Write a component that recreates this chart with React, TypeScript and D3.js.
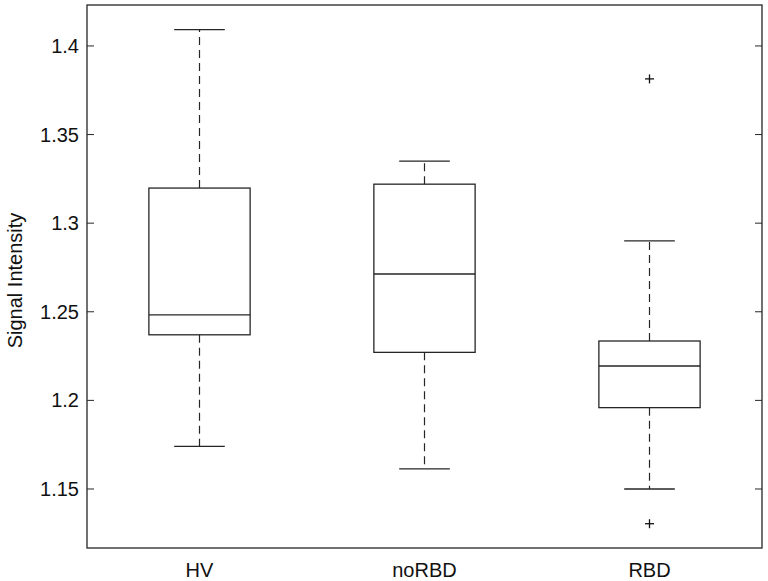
import React from 'react';
import * as d3 from 'd3';

const categories = ['HV', 'noRBD', 'RBD'];
const lowerWhisker = [1.174, 1.1614, 1.15];
const q1 = [1.237, 1.2271, 1.1959];
const median = [1.2483, 1.2713, 1.2194];
const q3 = [1.3198, 1.322, 1.2335];
const upperWhisker = [1.4092, 1.335, 1.29];
const outliers = [[], [], [1.3814, 1.1304]];
const yTicks = [1.15, 1.2, 1.25, 1.3, 1.35, 1.4];

const App: React.FC = () => {
	const width = 768;
	const height = 581;
	const left = 87;
	const right = 762;
	const top = 5;
	const bottom = 548;
	const stroke = '#262626';
	const font = 'Liberation Sans, Arial, Helvetica, sans-serif';

	const x = d3.scaleLinear().domain([0.5, 3.5]).range([left, right]);
	const y = d3.scaleLinear().domain([1.1167, 1.4231]).range([bottom, top]);
	const boxHalf = (x(1.45) - x(1)) / 2;
	const capHalf = boxHalf / 2;

	return (
		<svg width={width} height={height} style={{ position: 'absolute', left: 0, top: 0, background: '#fff' }}>
			<rect x={left} y={top} width={right - left} height={bottom - top} fill="none" stroke={stroke} strokeWidth={1.3} />
			{yTicks.map(t => (
				<g key={t}>
					<line x1={left} x2={left + 7} y1={y(t)} y2={y(t)} stroke={stroke} />
					<line x1={right} x2={right - 7} y1={y(t)} y2={y(t)} stroke={stroke} />
					<text x={left - 8} y={y(t)} dy="0.35em" textAnchor="end" fontFamily={font} fontSize={20} fill="#111">
						{d3.format('')(t)}
					</text>
				</g>
			))}
			{categories.map((c, i) => {
				const cx = x(i + 1);
				return (
					<g key={c}>
						<line x1={cx} x2={cx} y1={y(q3[i])} y2={y(upperWhisker[i])} stroke={stroke} strokeWidth={1.2} strokeDasharray="8,5" />
						<line x1={cx} x2={cx} y1={y(q1[i])} y2={y(lowerWhisker[i])} stroke={stroke} strokeWidth={1.2} strokeDasharray="8,5" />
						<line x1={cx - capHalf} x2={cx + capHalf} y1={y(upperWhisker[i])} y2={y(upperWhisker[i])} stroke={stroke} strokeWidth={1.3} />
						<line x1={cx - capHalf} x2={cx + capHalf} y1={y(lowerWhisker[i])} y2={y(lowerWhisker[i])} stroke={stroke} strokeWidth={1.3} />
						<rect x={cx - boxHalf} y={y(q3[i])} width={boxHalf * 2} height={y(q1[i]) - y(q3[i])} fill="none" stroke={stroke} strokeWidth={1.3} />
						<line x1={cx - boxHalf} x2={cx + boxHalf} y1={y(median[i])} y2={y(median[i])} stroke={stroke} strokeWidth={1.3} />
						{outliers[i].map((o, j) => (
							<g key={j} stroke="#111" strokeWidth={1.3}>
								<line x1={cx - 4.5} x2={cx + 4.5} y1={y(o)} y2={y(o)} />
								<line x1={cx} x2={cx} y1={y(o) - 4.5} y2={y(o) + 4.5} />
							</g>
						))}
						<text x={cx} y={577} textAnchor="middle" fontFamily={font} fontSize={20} fill="#111">{c}</text>
					</g>
				);
			})}
			<text transform={`translate(22,${(top + bottom) / 2 + 4}) rotate(-90)`} textAnchor="middle" fontFamily={font} fontSize={20} fill="#111">
				Signal Intensity
			</text>
		</svg>
	);
};

export default App;
